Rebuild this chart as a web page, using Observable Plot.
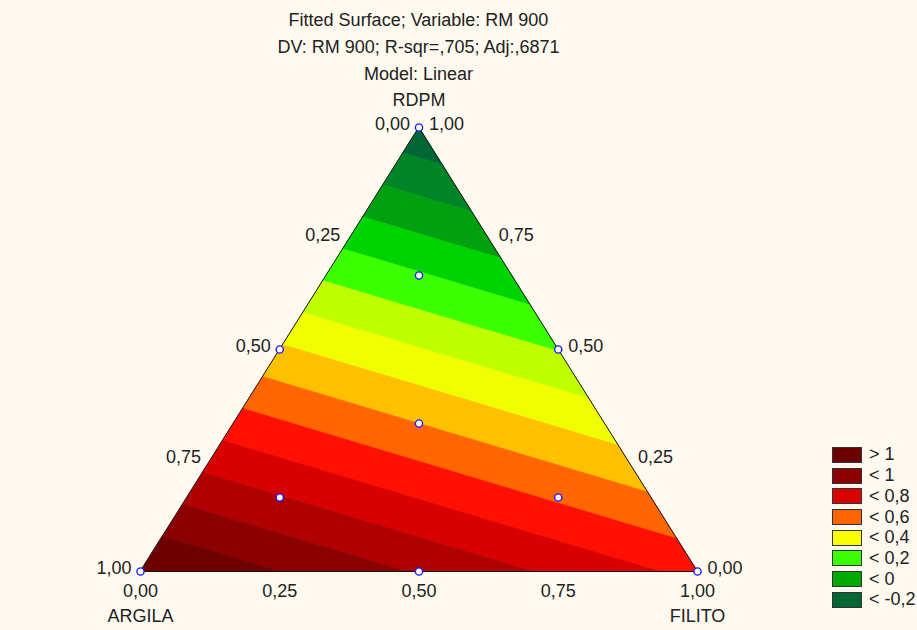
<!DOCTYPE html>
<html>
<head>
<meta charset="utf-8">
<script src="https://cdn.jsdelivr.net/npm/d3@7"></script>
<script src="https://cdn.jsdelivr.net/npm/@observablehq/plot@0.6"></script>
<style>
  html, body { margin: 0; padding: 0; }
  body { background: #fffaf0; width: 917px; height: 630px; overflow: hidden; position: relative;
         font-family: "Liberation Sans", Arial, sans-serif; color: #222; }
  #title { width: 837px; text-align: center; padding-top: 7px; height: 81px; font-size: 18px; line-height: 27px; }
  #legend { position: absolute; left: 832px; top: 444.6px; font-size: 18px; }
  .item { height: 20.7px; display: flex; align-items: center; }
  .sw { width: 28px; height: 14px; border: 1px solid #333; margin-right: 7px; }
</style>
</head>
<body>
<div id="title"></div>
<div id="chart"></div>
<div id="legend"></div>
<script>
// ---- data ----
const titleLines = ["Fitted Surface; Variable: RM 900", "DV: RM 900; R-sqr=,705; Adj:,6871", "Model: Linear"];
const componentNames = ["ARGILA", "FILITO", "RDPM"];
// linear model coefficients (value at each pure-component vertex)
const modelCoefs = [1.11, 0.67, -0.28];
// contour band edges (lower, upper) and colours
const bandLower = [-0.4, -0.2, -0.1, 0.0, 0.1, 0.2, 0.3, 0.4, 0.5, 0.6, 0.7, 0.8, 0.9, 1.0];
const bandUpper = [-0.2, -0.1, 0.0, 0.1, 0.2, 0.3, 0.4, 0.5, 0.6, 0.7, 0.8, 0.9, 1.0, 1.3];
const bandColors = ["#006633", "#008428", "#00a010", "#00d400", "#3cff00", "#c0ff00", "#f0ff00",
                    "#ffc000", "#ff6600", "#ff1000", "#d80000", "#b00000", "#8b0000", "#700000"];
// design points (ARGILA, FILITO, RDPM)
const designArgila = [1, 0, 0, 0.5, 0.5, 0, 1/3, 2/3, 1/6, 1/6];
const designFilito = [0, 1, 0, 0.5, 0, 0.5, 1/3, 1/6, 2/3, 1/6];
const designRdpm   = [0, 0, 1, 0, 0.5, 0.5, 1/3, 1/6, 1/6, 2/3];
// axis tick values
const tickValues = [0, 0.25, 0.5, 0.75, 1];
// legend
const legendLabels = ["> 1", "< 1", "< 0,8", "< 0,6", "< 0,4", "< 0,2", "< 0", "< -0,2"];
const legendColors = ["#6b0000", "#8b0000", "#d80000", "#ff6400", "#f8ff00", "#3cff00", "#00a800", "#006633"];

// ---- helpers ----
const fmt = v => d3.format(".2f")(v).replace(".", ",");
const toXY = (a, f, r) => ({x: f + r / 2, y: r});
const zval = p => p[0] * modelCoefs[0] + p[1] * modelCoefs[1] + p[2] * modelCoefs[2];

function clip(poly, test, level) {
  const out = [];
  for (let i = 0; i < poly.length; i++) {
    const p = poly[i], q = poly[(i + 1) % poly.length];
    const zp = zval(p), zq = zval(q);
    const ip = test(zp), iq = test(zq);
    if (ip) out.push(p);
    if (ip !== iq) {
      const t = (level - zp) / (zq - zp);
      out.push(p.map((v, k) => v + t * (q[k] - v)));
    }
  }
  return out;
}

const triangle = [[1, 0, 0], [0, 1, 0], [0, 0, 1]];
const bandRows = [];
bandLower.forEach((lo, i) => {
  const hi = bandUpper[i];
  let poly = clip(triangle, z => z >= lo, lo);
  poly = clip(poly, z => z <= hi, hi);
  poly.forEach(p => bandRows.push({band: i, ...toXY(p[0], p[1], p[2])}));
});

const outline = triangle.map(p => toXY(p[0], p[1], p[2]));
const design = designArgila.map((a, i) => toXY(a, designFilito[i], designRdpm[i]));
const leftTicks = tickValues.map(t => ({...toXY(t, 0, 1 - t), label: fmt(t)}));   // ARGILA
const rightTicks = tickValues.map(t => ({...toXY(0, 1 - t, t), label: fmt(t)}));  // RDPM
const bottomTicks = tickValues.map(t => ({...toXY(1 - t, t, 0), label: fmt(t)})); // FILITO
const vertexLabels = componentNames.map((n, i) => ({...outline[i], label: n}));

const font = {fontSize: 18, fill: "#222"};

const chart = Plot.plot({
  width: 917,
  height: 542,
  style: {background: "transparent", fontFamily: "'Liberation Sans', Arial, sans-serif"},
  x: {domain: [0, 1], range: [140, 697], axis: null},
  y: {domain: [0, 1], range: [483, 39], axis: null},
  color: {type: "ordinal", domain: d3.range(bandColors.length), range: bandColors},
  marks: [
    Plot.line(bandRows, {x: "x", y: "y", z: "band", fill: "band", stroke: "band", strokeWidth: 0.8, curve: "linear-closed"}),
    Plot.line(outline, {x: "x", y: "y", stroke: "#111", strokeWidth: 1, curve: "linear-closed"}),
    Plot.dot(design, {x: "x", y: "y", r: 3.6, stroke: "#1a1aff", fill: "white", strokeWidth: 1.4}),
    Plot.text(leftTicks, {x: "x", y: "y", text: "label", textAnchor: "end", dx: -9, dy: -3, ...font}),
    Plot.text(rightTicks, {x: "x", y: "y", text: "label", textAnchor: "start", dx: 10, dy: -3, ...font}),
    Plot.text(bottomTicks, {x: "x", y: "y", text: "label", dy: 20, ...font}),
    Plot.text(vertexLabels.slice(0, 2), {x: "x", y: "y", text: "label", dy: 45, ...font}),
    Plot.text(vertexLabels.slice(2), {x: "x", y: "y", text: "label", dy: -27, ...font})
  ]
});
document.getElementById("chart").append(chart);

document.getElementById("title").innerHTML = titleLines.map(t => `<div>${t}</div>`).join("");
document.getElementById("legend").innerHTML = legendLabels.map((l, i) =>
  `<div class="item"><div class="sw" style="background:${legendColors[i]}"></div><span>${l}</span></div>`).join("");
</script>
</body>
</html>
